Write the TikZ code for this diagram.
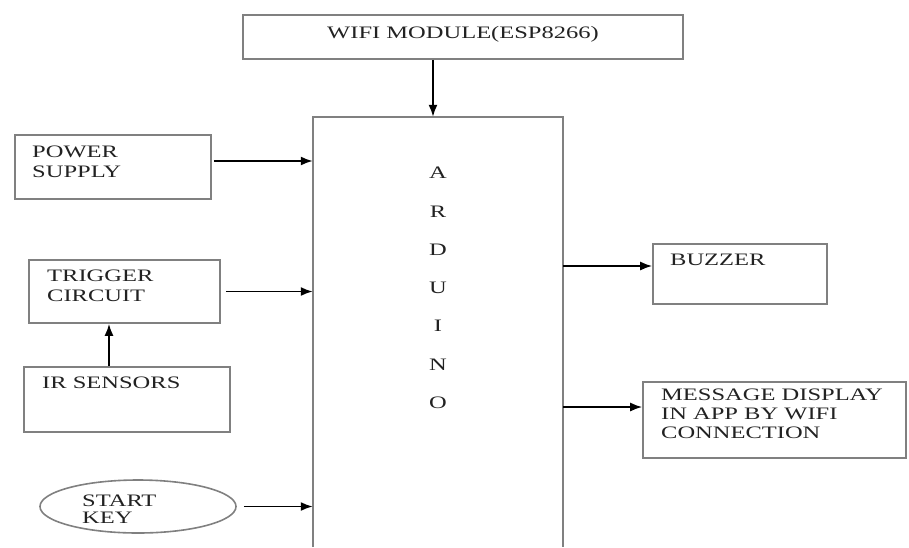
\documentclass[tikz,border=0pt]{standalone}
\usepackage{fontspec}
\setmainfont{Liberation Serif}
\usepackage{graphicx}
\usetikzlibrary{arrows.meta,shapes.geometric}
\definecolor{boxgray}{HTML}{808080}
\definecolor{txtgray}{HTML}{222222}
\newcommand{\wtxt}[1]{\scalebox{1.4}[1]{#1}}
\tikzset{
  blk/.style={draw=boxgray, line width=1.6pt, rectangle, inner sep=0pt},
  oval/.style={draw=boxgray, line width=1.6pt, ellipse, inner sep=0pt},
  lbl/.style={anchor=north west, inner sep=0pt, align=left, text=txtgray,
              font=\fontsize{17.5}{20}\selectfont},
  letter/.style={anchor=center, inner sep=0pt, text=txtgray,
              font=\fontsize{17.5}{20}\selectfont},
  conn/.style={line width=1.8pt, -{Latex[length=12pt,width=9pt]}},
}
\begin{document}
\begin{tikzpicture}[x=1pt,y=-1pt]
\useasboundingbox (0,0) rectangle (909,547);
% boxes
\node[blk, minimum width=440pt, minimum height=44pt] (wifi) at (463,37) {};
\node[blk, minimum width=196pt, minimum height=64pt] (power) at (113,167) {};
\node[blk, minimum width=191pt, minimum height=63pt] (trig) at (124.5,291.5) {};
\node[blk, minimum width=206pt, minimum height=65pt] (ir) at (127,399.5) {};
\node[oval, minimum width=196pt, minimum height=53pt] (start) at (138,506.5) {};
\node[blk, minimum width=174pt, minimum height=60pt] (buzz) at (740,274) {};
\node[blk, minimum width=263pt, minimum height=76pt] (msg) at (774.5,420) {};
\node[minimum width=250pt, minimum height=430pt, inner sep=0pt] (ard) at (438,332) {};
\draw[draw=boxgray, line width=1.6pt] (ard.south west) -- (ard.north west) -- (ard.north east) -- (ard.south east);
% texts
\node[letter] (wifitxt) at (463,34) {\wtxt{WIFI MODULE(ESP8266)}};
\node[lbl] (powertxt) at (32,146) {\wtxt{POWER}\\\wtxt{SUPPLY}};
\node[lbl] (trigtxt) at (47,270) {\wtxt{TRIGGER}\\\wtxt{CIRCUIT}};
\node[lbl] (irtxt) at (42,377) {\wtxt{IR SENSORS}};
\node[lbl, font=\fontsize{17.5}{17}\selectfont] (starttxt) at (82,495) {\wtxt{START}\\\wtxt{KEY}};
\node[lbl] (buzztxt) at (670,254) {\wtxt{BUZZER}};
\node[lbl, font=\fontsize{17.5}{19}\selectfont] (msgtxt) at (661,389) {\wtxt{MESSAGE DISPLAY}\\\wtxt{IN APP BY WIFI}\\\wtxt{CONNECTION}};
\foreach \l [count=\i from 0] in {A,R,D,U,I,N,O}
  \node[letter] (ard\i) at (438,173+38.3*\i) {\wtxt{\l}};
% connectors
\coordinate (cw) at ([xshift=-30pt]wifi.south);
\draw[conn] (cw) -- (cw |- ard.north);
\coordinate (cp) at ([xshift=2pt,yshift=6pt]power.east);
\draw[conn] (cp) -- (cp -| ard.west);
\coordinate (ct) at ([xshift=5pt]trig.east);
\draw[conn] (ct) -- (ct -| ard.west);
\coordinate (ci) at ([xshift=-18pt]ir.north);
\draw[conn] (ci) -- (ci |- trig.south);
\coordinate (cs) at ([xshift=7pt]start.east);
\draw[conn] (cs) -- (cs -| ard.west);
\coordinate (cb) at ([yshift=8pt]buzz.west);
\draw[conn] (cb -| ard.east) -- (cb);
\coordinate (cm) at ([yshift=13pt]msg.west);
\draw[conn] (cm -| ard.east) -- (cm);
\end{tikzpicture}
\end{document}
